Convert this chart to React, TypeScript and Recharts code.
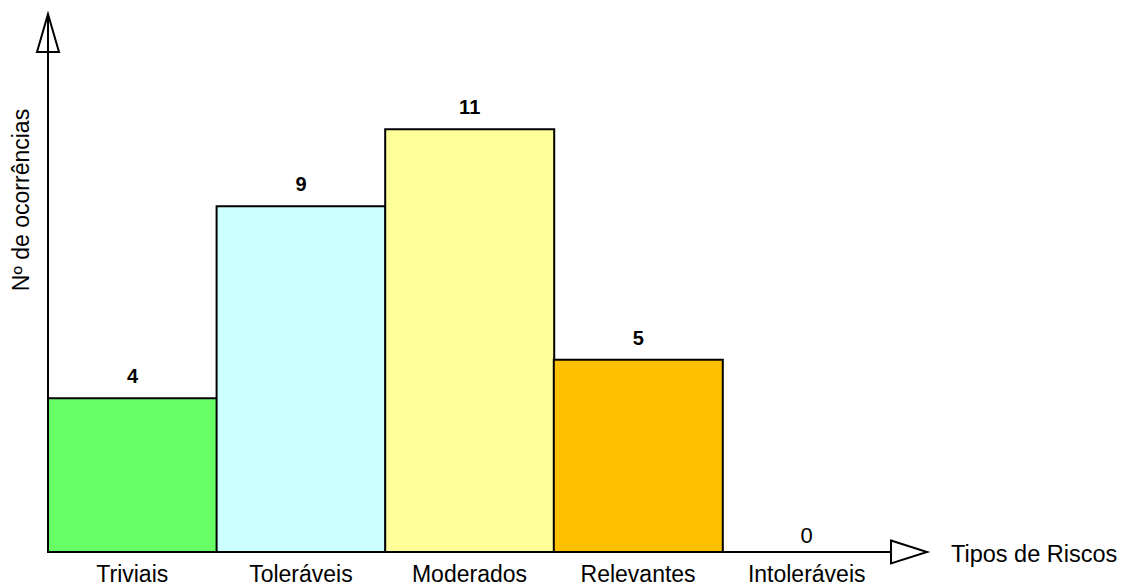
import { BarChart, Bar, XAxis, YAxis, Cell, LabelList, Customized, ReferenceDot } from "recharts";

const categories = ["Triviais", "Toleráveis", "Moderados", "Relevantes", "Intoleráveis"];
const occurrences = [4, 9, 11, 5, 0];
const barColors = ["#66FF66", "#CCFFFF", "#FFFF99", "#FFC000", "#FF0000"];
const yLabel = "Nº de ocorrências";
const xLabel = "Tipos de Riscos";

const data = categories.map((name, i) => ({ name, value: occurrences[i] }));

const W = 1123;
const H = 584;
const LEFT = 48;
const RIGHT = 891;
const TOP = 14;
const BOTTOM = 552;
const FONT = "'Liberation Sans', Arial, sans-serif";

function Decorations() {
  return (
    <g>
      {/* y arrow */}
      <polygon
        points={`${LEFT},${TOP} ${LEFT - 11},${TOP + 38} ${LEFT + 11},${TOP + 38}`}
        fill="#fff"
        stroke="#000"
        strokeWidth={2}
      />
      {/* x arrow */}
      <polygon
        points={`${RIGHT},${BOTTOM - 11.5} ${RIGHT + 36},${BOTTOM} ${RIGHT},${BOTTOM + 11.5}`}
        fill="#fff"
        stroke="#000"
        strokeWidth={2}
      />
      <text x={951} y={BOTTOM + 10} fontSize={23.5} fontFamily={FONT} fill="#000">
        {xLabel}
      </text>
      <text
        x={29}
        y={200}
        fontSize={23}
        fontFamily={FONT}
        fill="#000"
        textAnchor="middle"
        transform="rotate(-90 29 200)"
      >
        {yLabel}
      </text>
    </g>
  );
}

function TickLabel(props: any) {
  const { x, payload } = props;
  return (
    <text x={x} y={BOTTOM + 30} textAnchor="middle" fontSize={23} fontFamily={FONT} fill="#000">
      {payload.value}
    </text>
  );
}

function ValueLabel(props: any) {
  const { x, y, width, value } = props;
  return (
    <text
      x={x + width / 2}
      y={y - 15}
      textAnchor="middle"
      fontSize={20}
      fontWeight="bold"
      fontFamily={FONT}
      fill="#000"
    >
      {value}
    </text>
  );
}

function ZeroLabel(props: any) {
  const { viewBox, value } = props;
  const cx = viewBox.x + viewBox.width / 2;
  return (
    <text x={cx} y={viewBox.y - 9} textAnchor="middle" fontSize={22} fontFamily={FONT} fill="#000">
      {value}
    </text>
  );
}

export default function App() {
  return (
    <div style={{ position: "absolute", top: 0, left: 0, width: W, height: H, background: "#fff" }}>
      <BarChart
        width={W}
        height={H}
        data={data}
        barCategoryGap={0}
        margin={{ top: TOP, right: W - RIGHT, bottom: 0, left: 0 }}
        style={{ fontFamily: FONT }}
      >
        <XAxis
          dataKey="name"
          height={H - BOTTOM}
          tickLine={false}
          axisLine={{ stroke: "#000", strokeWidth: 2 }}
          tick={<TickLabel />}
          interval={0}
        />
        <YAxis
          width={LEFT}
          domain={[0, 14]}
          tick={false}
          tickLine={false}
          axisLine={{ stroke: "#000", strokeWidth: 2 }}
        />
        <Bar dataKey="value" stroke="#000" strokeWidth={2} isAnimationActive={false}>
          {data.map((d, i) => (
            <Cell key={d.name} fill={barColors[i]} />
          ))}
          <LabelList dataKey="value" content={<ValueLabel />} />
        </Bar>
        {data
          .filter((d) => d.value === 0)
          .map((d) => (
            <ReferenceDot
              key={d.name}
              x={d.name}
              y={0}
              r={0.01}
              fill="none"
              stroke="none"
              label={<ZeroLabel value={d.value} />}
            />
          ))}
        <Customized component={<Decorations />} />
      </BarChart>
    </div>
  );
}
